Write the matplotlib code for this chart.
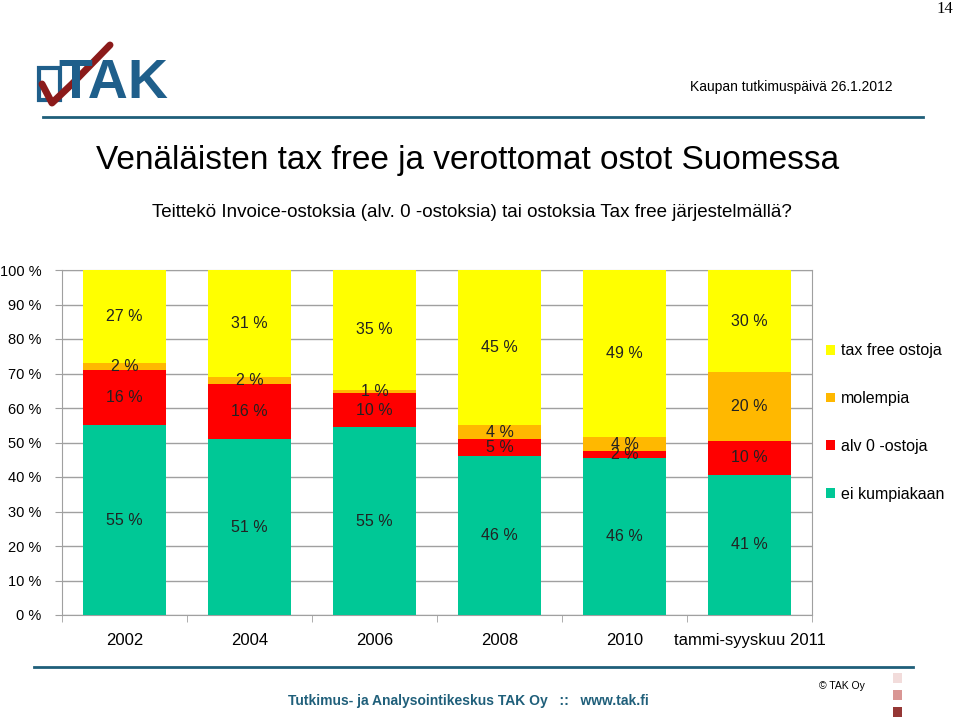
import numpy as np
import matplotlib
matplotlib.use("Agg")
import matplotlib.pyplot as plt
from matplotlib.patches import Rectangle
from matplotlib.lines import Line2D

# chart data (percent shares)
categories = ["2002", "2004", "2006", "2008", "2010", "tammi-syyskuu 2011"]
ei_kumpiakaan = [55, 51, 55, 46, 46, 41]
alv0_ostoja = [16, 16, 10, 5, 2, 10]
molempia = [2, 2, 1, 4, 4, 20]
tax_free = [27, 31, 35, 45, 49, 30]

series_names = ["ei kumpiakaan", "alv 0 -ostoja", "molempia", "tax free ostoja"]
series_colors = ["#00C896", "#FF0000", "#FFB800", "#FFFF00"]

W, H = 960, 722


def fx(px):
    return px / W


def fy(py):
    return 1 - py / H


plt.rcParams['font.family'] = ['Liberation Sans', 'DejaVu Sans']

fig = plt.figure(figsize=(9.6, 7.22), dpi=100)
fig.patch.set_facecolor("white")

ax = fig.add_axes([fx(62), fy(615), fx(812) - fx(62), fy(270) - fy(615)])

series = [ei_kumpiakaan, alv0_ostoja, molempia, tax_free]
data = np.array(series, dtype=float)
totals = data.sum(axis=0)
shares = data / totals * 100  # 100 % stacked like the original
x = np.arange(len(categories))

bottom = np.zeros(len(categories))
for name, raw, vals, col in zip(series_names, series, shares, series_colors):
    ax.bar(x, vals, width=0.66, bottom=bottom, color=col, label=name, zorder=3)
    for xi, b, v, r in zip(x, bottom, vals, raw):
        ax.text(xi, b + v / 2, f"{r} %", ha="center", va="center",
                fontsize=11.5, color="#222222", zorder=4)
    bottom += vals

ax.set_xlim(-0.5, len(categories) - 0.5)
ax.set_ylim(0, 100)
ax.set_yticks(np.arange(0, 101, 10))
ax.set_yticklabels([f"{v} %" for v in range(0, 101, 10)], fontsize=10.5)
ax.yaxis.grid(True, color="#A0A0A0", linewidth=1, zorder=0)
ax.tick_params(axis="y", direction="out", length=5, color="#A0A0A0", pad=10)

ax.set_xticks(x)
ax.set_xticklabels(categories, fontsize=12)
ax.set_xticks(np.arange(-0.5, len(categories)), minor=True)
ax.tick_params(axis="x", which="major", length=0, pad=13)
ax.tick_params(axis="x", which="minor", direction="out", length=5, color="#A0A0A0")

for s in ax.spines.values():
    s.set_color("#A0A0A0")

handles, labels = ax.get_legend_handles_labels()
leg = fig.legend(handles[::-1], labels[::-1], loc="upper left",
                 bbox_to_anchor=(fx(820), fy(337)), frameon=False,
                 fontsize=11.5, handlelength=0.55, handleheight=0.55,
                 handletextpad=0.35, labelspacing=2.05, borderaxespad=0)

# header
fig.text(fx(953), fy(9), "14", fontsize=12, family="Liberation Serif",
         ha="right", va="center")
fig.text(fx(893), fy(87), "Kaupan tutkimuspäivä 26.1.2012", fontsize=10,
         family=["Liberation Sans Narrow", "Liberation Sans"], ha="right", va="center")
fig.add_artist(Line2D([fx(43), fx(923)], [fy(117), fy(117)], color="#1F5F7A", lw=2))

# logo
fig.add_artist(Rectangle((fx(39), fy(100)), fx(21), fy(68) - fy(100),
                         fill=False, edgecolor="#1F5F8B", lw=3))
fig.text(fx(58), fy(84), "TAK", fontsize=40, fontweight="bold", color="#1F5F8B",
         ha="left", va="center", family=["Liberation Sans Narrow", "Liberation Sans"])
fig.add_artist(Line2D([fx(42), fx(52), fx(72), fx(110)],
                      [fy(84), fy(103), fy(84), fy(45)],
                      color="#8B1A1A", lw=5, solid_capstyle="round"))

# titles
fig.text(fx(468), fy(160), "Venäläisten tax free ja verottomat ostot Suomessa",
         fontsize=24, ha="center", va="center")
fig.text(fx(472), fy(212), "Teittekö Invoice-ostoksia (alv. 0 -ostoksia) tai ostoksia Tax free järjestelmällä?",
         fontsize=13.5, ha="center", va="center")

# footer
fig.add_artist(Line2D([fx(34), fx(913)], [fy(667), fy(667)], color="#1F5F7A", lw=2))
fig.text(fx(468), fy(701), "Tutkimus- ja Analysointikeskus TAK Oy   ::   www.tak.fi",
         fontsize=10, fontweight="bold", color="#1F5F7A", ha="center", va="center",
         family=["Liberation Sans Narrow", "Liberation Sans"])
fig.text(fx(865), fy(686), "© TAK Oy", fontsize=7.5, ha="right", va="center",
         family=["Liberation Sans Narrow", "Liberation Sans"])
for yy, c in zip([678, 695, 712], ["#F2DCDB", "#D99694", "#953735"]):
    fig.add_artist(Rectangle((fx(893), fy(yy + 5)), fx(9), fy(yy - 5) - fy(yy + 5),
                             color=c, lw=0))

fig.savefig("out.png", dpi=100)
